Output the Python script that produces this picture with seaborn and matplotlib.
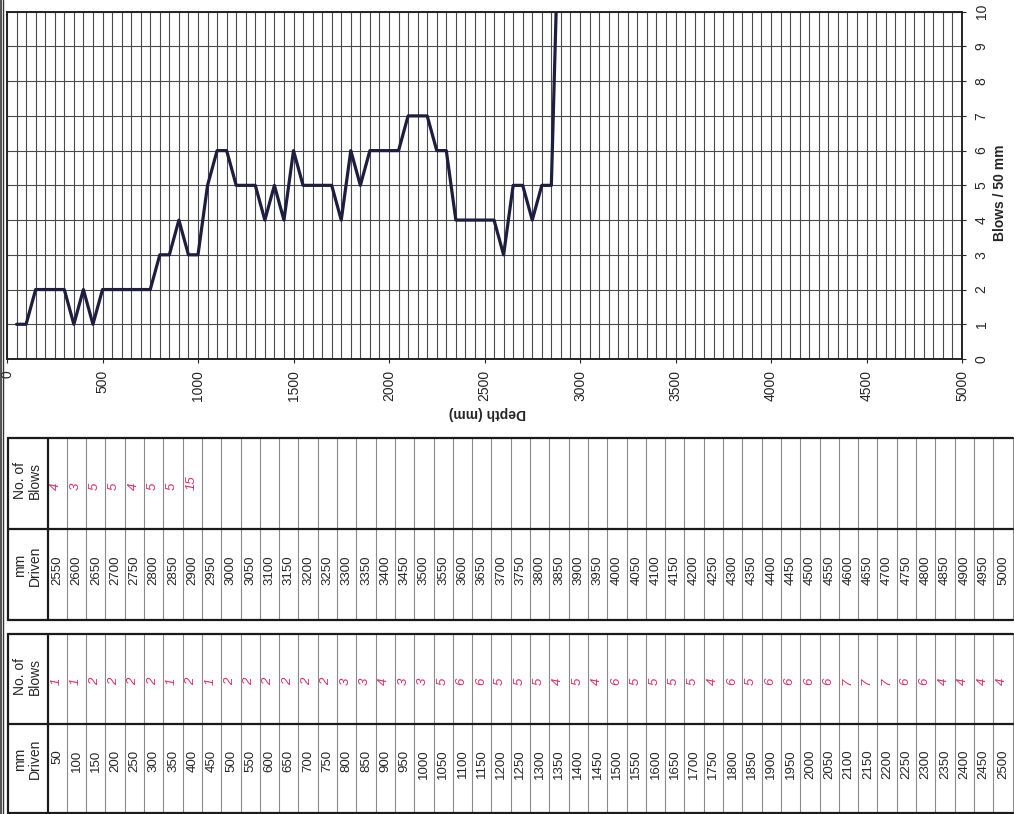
import matplotlib
matplotlib.use('Agg')
import matplotlib.pyplot as plt
import seaborn as sns
from matplotlib.lines import Line2D

# penetration record, blows per 50 mm driven
depth_mm = [50, 100, 150, 200, 250, 300, 350, 400, 450, 500,
            550, 600, 650, 700, 750, 800, 850, 900, 950, 1000,
            1050, 1100, 1150, 1200, 1250, 1300, 1350, 1400, 1450, 1500,
            1550, 1600, 1650, 1700, 1750, 1800, 1850, 1900, 1950, 2000,
            2050, 2100, 2150, 2200, 2250, 2300, 2350, 2400, 2450, 2500,
            2550, 2600, 2650, 2700, 2750, 2800, 2850, 2900]
blows = [1, 1, 2, 2, 2, 2, 1, 2, 1, 2,
         2, 2, 2, 2, 2, 3, 3, 4, 3, 3,
         5, 6, 6, 5, 5, 5, 4, 5, 4, 6,
         5, 5, 5, 5, 4, 6, 5, 6, 6, 6,
         6, 7, 7, 7, 6, 6, 4, 4, 4, 4,
         4, 3, 5, 5, 4, 5, 5, 15]

# table columns (mm driven); the second sheet runs 2550..5000
table_a_mm = list(range(50, 2501, 50))
table_b_mm = list(range(2550, 5001, 50))

x_ticks = list(range(0, 5001, 500))
y_ticks = list(range(0, 11))

sns.set_style('white')
plt.rcParams['font.family'] = ['Liberation Sans', 'DejaVu Sans']

W, H = 1014, 814
fig = plt.figure(figsize=(W / 100, H / 100), dpi=100)


def box(l, t, r, b):
    return [l / W, 1 - b / H, (r - l) / W, (b - t) / H]


# ---- the chart (page is turned on its side) ----
ax = fig.add_axes(box(7, 11.7, 962, 359))
sns.lineplot(x=depth_mm, y=blows, ax=ax, color='#1d1d3f', lw=2.3, sort=False)
ax.set_xlim(0, 5000)
ax.set_ylim(0, 10)
ax.set_xticks(x_ticks)
ax.set_xticks(range(0, 5001, 50), minor=True)
ax.set_yticks(y_ticks)
ax.grid(True, which='both', color='#4a4a4a', lw=0.8)
ax.set_axisbelow(True)
ax.yaxis.tick_right()
ax.tick_params(axis='x', which='major', length=3, pad=5, labelsize=10, labelrotation=90, direction='out', bottom=True)
ax.tick_params(axis='y', which='major', length=3, pad=6, labelsize=10, labelrotation=90, direction='out', right=True, left=False)
ax.tick_params(which='minor', length=0)
for lab in ax.get_yticklabels():
    lab.set_va('center')
for sp in ax.spines.values():
    sp.set_color('#222222')
    sp.set_linewidth(1.4)

ax.set_xlabel('Depth (mm)', fontsize=10, fontweight='bold', rotation=180, va='center')
ax.xaxis.set_label_coords(0.503, -0.155)
ax.yaxis.set_label_position('right')
ax.set_ylabel('Blows / 50 mm', fontsize=10, fontweight='bold', rotation=90, va='center')
ax.yaxis.set_label_coords(1.04, 0.48)

red = '#dc2f63'
lookup = dict(zip(depth_mm, blows))


def draw_table(tax, cols):
    n = len(cols)
    hw = 2.05
    tax.set_xlim(-hw, n)
    tax.set_ylim(0, 2)
    tax.axis('off')
    for i in range(1, n + 1):
        tax.plot([i, i], [0, 2], color='#8a8a8a', lw=0.8, clip_on=False)
    for y in (0, 1, 2):
        tax.plot([-hw, n], [y, y], color='#1a1a1a', lw=1.6, clip_on=False)
    tax.plot([-hw, -hw], [0, 2], color='#1a1a1a', lw=1.6, clip_on=False)
    tax.plot([0, 0], [0, 2], color='#1a1a1a', lw=1.6, clip_on=False)
    tax.text(-hw / 2, 1.53, 'No. of\nBlows', rotation=90, ha='center', va='center',
             fontsize=10, multialignment='center', linespacing=1.1)
    tax.text(-hw / 2, 0.6, 'mm\nDriven', rotation=90, ha='center', va='center',
             fontsize=10, multialignment='center', linespacing=1.1)
    for i, mm in enumerate(cols):
        tax.text(i + 0.5, 0.71, str(mm), rotation=90, ha='center', va='top', fontsize=9.5)
        if mm in lookup:
            tax.text(i + 0.45, 1.43, str(lookup[mm]), rotation=90, ha='center', va='bottom',
                     fontsize=9.5, color=red, style='italic')


col_w = 19.3
tw = (50 + 2.05) * col_w
draw_table(fig.add_axes(box(8, 438, 8 + tw, 620)), table_b_mm)
draw_table(fig.add_axes(box(8, 634, 8 + tw, 813)), table_a_mm)

# page edge
fig.add_artist(Line2D([1.2 / W, 1.2 / W], [0, 1], color='#333333', lw=1.2))
fig.add_artist(Line2D([3.4 / W, 3.4 / W], [0, 1], color='#333333', lw=1.0))

plt.savefig('out.png', dpi=100)
